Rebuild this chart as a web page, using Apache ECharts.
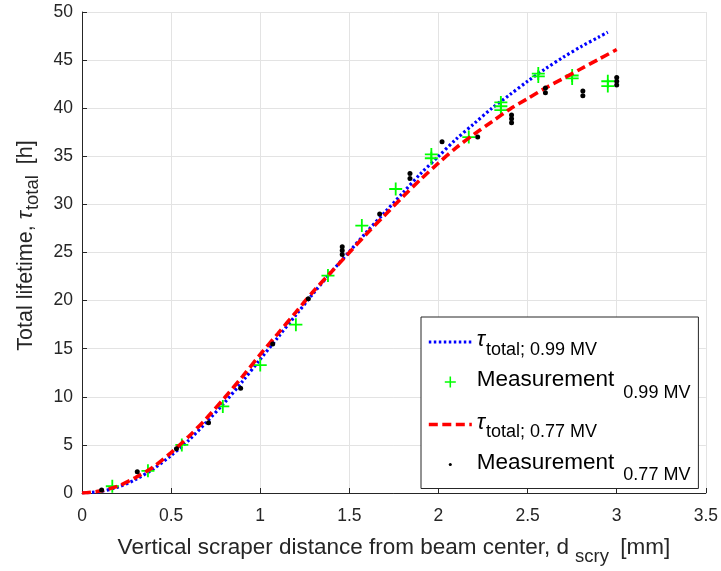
<!DOCTYPE html>
<html>
<head>
<meta charset="utf-8">
<script src="https://cdn.jsdelivr.net/npm/echarts@6/dist/echarts.min.js"></script>
<style>
  html, body { margin: 0; padding: 0; background: #fff; }
  #chart { width: 721px; height: 571px; }
</style>
</head>
<body>
<div id="chart"></div>
<script>
// Simulated total lifetime vs. scraper distance, two RF voltages
const modelX099 = [0, 0.1, 0.2, 0.3, 0.4, 0.5, 0.6, 0.7, 0.8, 0.9, 1.0, 1.1, 1.2, 1.3, 1.4, 1.5,
  1.6, 1.7, 1.8, 1.9, 2.0, 2.1, 2.2, 2.3, 2.4, 2.5, 2.6, 2.7, 2.8, 2.9, 2.95];
const modelY099 = [0, 0.15, 0.6, 1.4, 2.5, 3.9, 5.5, 7.4, 9.4, 11.6, 13.9, 16.2, 18.5, 20.8, 23.0, 25.1,
  27.2, 29.2, 31.2, 33.2, 35.0, 36.8, 38.4, 40.0, 41.4, 42.8, 44.1, 45.3, 46.4, 47.4, 47.9];

const modelX077 = [0, 0.1, 0.2, 0.3, 0.4, 0.5, 0.6, 0.7, 0.8, 0.9, 1.0, 1.1, 1.2, 1.3, 1.4, 1.5,
  1.6, 1.7, 1.8, 1.9, 2.0, 2.1, 2.2, 2.3, 2.4, 2.5, 2.6, 2.7, 2.8, 2.9, 3.0];
const modelY077 = [0, 0.2, 0.7, 1.6, 2.7, 4.2, 5.9, 7.8, 9.9, 12.1, 14.4, 16.6, 18.8, 21.0, 23.0, 25.0,
  27.0, 28.9, 30.8, 32.6, 34.3, 35.9, 37.3, 38.6, 39.9, 41.0, 42.1, 43.1, 44.1, 45.1, 46.1];

// Measured lifetimes
const measX099 = [0.17, 0.37, 0.56, 0.79, 1.0, 1.2, 1.38, 1.57, 1.76, 1.96, 1.96, 2.17, 2.35, 2.35, 2.35,
  2.56, 2.56, 2.75, 2.75, 2.95, 2.95];
const measY099 = [0.7, 2.3, 5.0, 9.0, 13.3, 17.5, 22.6, 27.8, 31.6, 34.8, 35.2, 37.0, 39.8, 40.2, 40.6,
  43.3, 43.6, 43.1, 43.4, 42.3, 42.8];

const measX077 = [0.11, 0.31, 0.53, 0.71, 0.89, 1.07, 1.27, 1.46, 1.46, 1.46, 1.67, 1.84, 1.84, 2.02,
  2.22, 2.41, 2.41, 2.41, 2.6, 2.6, 2.81, 2.81, 3.0, 3.0, 3.0];
const measY077 = [0.3, 2.2, 4.6, 7.3, 10.9, 15.5, 20.2, 24.8, 25.2, 25.6, 29.0, 32.7, 33.2, 36.5,
  37.0, 38.5, 38.9, 39.3, 41.6, 42.1, 41.3, 41.8, 42.4, 42.8, 43.2];

const xTicks = { min: 0, max: 3.5, interval: 0.5 };
const yTicks = { min: 0, max: 50, interval: 5 };

const pairs = (xs, ys) => xs.map((x, i) => [x, ys[i]]);

const FONT = '"Liberation Sans", Arial, Helvetica, sans-serif';
const AXIS = '#262626';
const GRID = '#e3e3e3';

const PLUS = 'path://M4.3,0H5.7V4.3H10V5.7H5.7V10H4.3V5.7H0V4.3H4.3Z';
const SMALL_DOT = 'path://M0,0M10,10M3.6,5a1.4,1.4 0 1,0 2.8,0a1.4,1.4 0 1,0 -2.8,0Z';

const NAME_M099 = 'Measurement 0.99 MV';
const NAME_M077 = 'Measurement 0.77 MV';
const NAME_T099 = 'tau 0.99 MV';
const NAME_T077 = 'tau 0.77 MV';

const legendText = {
  [NAME_T099]: '{tau|τ}{tsub|total; 0.99 MV}',
  [NAME_M099]: '{big|Measurement}{msub|0.99 MV}',
  [NAME_T077]: '{tau|τ}{tsub|total; 0.77 MV}',
  [NAME_M077]: '{big|Measurement}{msub|0.77 MV}'
};

const chart = echarts.init(document.getElementById('chart'), null, { renderer: 'canvas' });

chart.setOption({
  animation: false,
  backgroundColor: '#ffffff',
  textStyle: { fontFamily: FONT },
  grid: { left: 82, right: 14, top: 12, bottom: 75, containLabel: false },
  xAxis: {
    type: 'value',
    min: xTicks.min, max: xTicks.max, interval: xTicks.interval,
    name: 'Vertical scraper distance from beam center, d{sub|scry} [mm]',
    nameLocation: 'middle',
    nameGap: 36,
    nameTextStyle: {
      fontFamily: FONT, fontSize: 22.5, color: AXIS,
      rich: { sub: { fontFamily: FONT, fontSize: 18.5, color: AXIS, padding: [18, 5, 0, 6] } }
    },
    axisLine: { show: true, onZero: false, lineStyle: { color: AXIS, width: 1 } },
    axisTick: { show: true, inside: true, length: 5, lineStyle: { color: AXIS } },
    axisLabel: { fontFamily: FONT, fontSize: 17.5, color: AXIS, margin: 14 },
    splitLine: { show: true, lineStyle: { color: GRID, width: 1 } }
  },
  yAxis: {
    type: 'value',
    min: yTicks.min, max: yTicks.max, interval: yTicks.interval,
    name: 'Total lifetime, {tau|τ}{sub|total} [h]',
    nameLocation: 'middle',
    nameGap: 38,
    nameTextStyle: {
      fontFamily: FONT, fontSize: 21.5, color: AXIS,
      padding: [0, 0, 0, 14],
      rich: {
        tau: { fontFamily: FONT, fontSize: 22, color: AXIS, fontStyle: 'italic' },
        sub: { fontFamily: FONT, fontSize: 18.5, color: AXIS, padding: [14, 5, 0, 1] }
      }
    },
    axisLine: { show: true, onZero: false, lineStyle: { color: AXIS, width: 1 } },
    axisTick: { show: true, inside: true, length: 5, lineStyle: { color: AXIS } },
    axisLabel: { fontFamily: FONT, fontSize: 17.5, color: AXIS, margin: 9 },
    splitLine: { show: true, lineStyle: { color: GRID, width: 1 } }
  },
  legend: {
    orient: 'vertical',
    left: 421,
    top: 317,
    padding: [12, 8, 4, 6],
    itemGap: 9.5,
    itemWidth: 43,
    itemHeight: 11,
    borderColor: AXIS,
    borderWidth: 1,
    backgroundColor: '#ffffff',
    data: [
      { name: NAME_T099, itemStyle: { opacity: 0 }, lineStyle: { width: 3.2 } },
      { name: NAME_M099, icon: PLUS },
      { name: NAME_T077, itemStyle: { opacity: 0 }, lineStyle: { width: 3.6 } },
      { name: NAME_M077, icon: SMALL_DOT }
    ],
    formatter: name => legendText[name],
    textStyle: {
      fontFamily: FONT,
      color: '#000',
      rich: {
        tau: { fontFamily: FONT, fontSize: 22, fontStyle: 'italic', color: '#000', padding: [0, 0, 4, 0] },
        tsub: { fontFamily: FONT, fontSize: 18, color: '#000', padding: [16, 0, 0, 1] },
        big: { fontFamily: FONT, fontSize: 22.5, color: '#000', padding: [0, 0, 4, 0] },
        msub: { fontFamily: FONT, fontSize: 18, color: '#000', padding: [22, 0, 0, 9] }
      }
    }
  },
  series: [
    {
      name: NAME_T099,
      type: 'line',
      data: pairs(modelX099, modelY099),
      smooth: 0.3,
      symbol: 'none',
      z: 2,
      itemStyle: { color: '#0000ff' },
      lineStyle: { color: '#0000ff', width: 3.2, type: [2.5, 2.5] }
    },
    {
      name: NAME_M099,
      type: 'scatter',
      data: pairs(measX099, measY099),
      symbol: PLUS,
      symbolSize: 13,
      z: 3,
      itemStyle: { color: '#00ff00', opacity: 1 }
    },
    {
      name: NAME_T077,
      type: 'line',
      data: pairs(modelX077, modelY077),
      smooth: 0.3,
      symbol: 'none',
      z: 4,
      itemStyle: { color: '#ff0000' },
      lineStyle: { color: '#ff0000', width: 3.6, type: [9, 4.5] }
    },
    {
      name: NAME_M077,
      type: 'scatter',
      data: pairs(measX077, measY077),
      symbol: 'circle',
      symbolSize: 5,
      z: 5,
      itemStyle: { color: '#000000', opacity: 1 }
    }
  ]
});
</script>
</body>
</html>
